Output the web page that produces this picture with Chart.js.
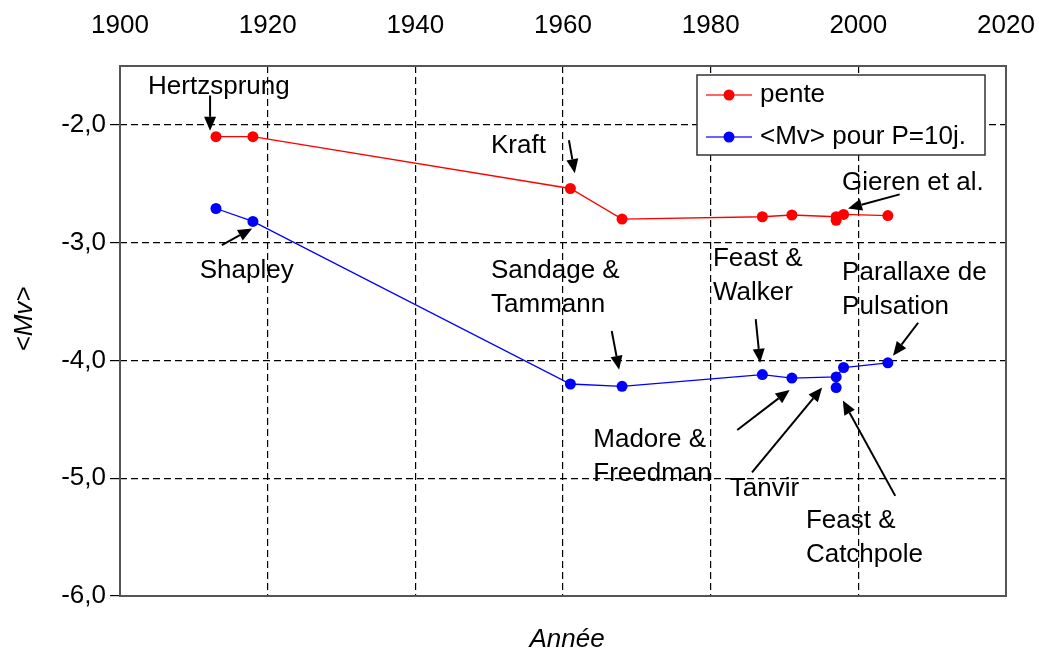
<!DOCTYPE html>
<html>
<head>
<meta charset="utf-8">
<script src="https://cdn.jsdelivr.net/npm/chart.js@4/dist/chart.umd.min.js"></script>
<style>
  body { margin: 0; background: #fff; }
  canvas { display: block; }
</style>
</head>
<body>
<canvas id="myChart" width="1039" height="654"></canvas>
<script>
// values
const years = [1913, 1918, 1961, 1968, 1987, 1991, 1997, 1998, 2004];
const pente = [-2.10, -2.10, -2.54, -2.80, -2.78, -2.765, -2.78, -2.76, -2.77];
const mvP10 = [-2.71, -2.82, -4.20, -4.22, -4.12, -4.15, -4.14, -4.06, -4.02];
// second 1997 measurement, not joined by the line
const extraYear = 1997;
const extraPente = -2.81;
const extraMv = -4.23;

const xTicks = [1900, 1920, 1940, 1960, 1980, 2000, 2020];
const yTicks = [-6, -5, -4, -3, -2];

// annotations: text lines (left x / middle y in data units) and arrows
const notes = [
    { lines: ['Hertzsprung'], x: 1903.8, y: -1.68 },
    { lines: ['Kraft'], x: 1950.25, y: -2.18 },
    { lines: ['Gieren et al.'], x: 1997.8, y: -2.49 },
    { lines: ['Shapley'], x: 1910.8, y: -3.24 },
    { lines: ['Sandage &', 'Tammann'], x: 1950.25, y: -3.24 },
    { lines: ['Feast &', 'Walker'], x: 1980.3, y: -3.14 },
    { lines: ['Parallaxe de', 'Pulsation'], x: 1997.8, y: -3.26 },
    { lines: ['Madore &', 'Freedman'], x: 1964.1, y: -4.67 },
    { lines: ['Tanvir'], x: 1982.6, y: -5.09 },
    { lines: ['Feast &', 'Catchpole'], x: 1992.9, y: -5.36 }
];
const arrows = [
    [1912.2, -1.75, 1912.2, -2.05],
    [1960.8, -2.13, 1961.6, -2.41],
    [2005.6, -2.59, 1998.6, -2.71],
    [1913.8, -3.02, 1917.9, -2.88],
    [1966.6, -3.75, 1967.6, -4.08],
    [1986.1, -3.65, 1986.7, -4.02],
    [2008.1, -3.68, 2004.7, -3.96],
    [1983.6, -4.59, 1990.7, -4.25],
    [1985.6, -4.95, 1995.1, -4.23],
    [2005.0, -5.15, 1997.9, -4.34]
];

const FONT = "'Liberation Sans', Arial, sans-serif";

function series(vals, extra) {
    let pts = years.map((yr, i) => ({ x: yr, y: vals[i] }));
    pts.push({ x: years[years.length - 1], y: null });
    pts.push({ x: extraYear, y: extra });
    return pts;
}

const decor = {
    id: 'decor',
    afterDatasetsDraw(chart) {
        const c = chart.ctx;
        const a = chart.chartArea;
        const xs = chart.scales.x, ys = chart.scales.y;
        c.save();
        // frame
        c.strokeStyle = '#555';
        c.lineWidth = 2;
        c.strokeRect(a.left, a.top, a.right - a.left, a.bottom - a.top);

        // notes
        c.fillStyle = '#000';
        c.font = '26px ' + FONT;
        c.textAlign = 'left';
        c.textBaseline = 'middle';
        notes.forEach(n => {
            let px = xs.getPixelForValue(n.x);
            let py = ys.getPixelForValue(n.y);
            n.lines.forEach((t, i) => c.fillText(t, px, py + i * 34));
        });

        // arrows
        c.strokeStyle = '#000';
        c.lineWidth = 2;
        arrows.forEach(ar => {
            let x1 = xs.getPixelForValue(ar[0]), y1 = ys.getPixelForValue(ar[1]);
            let x2 = xs.getPixelForValue(ar[2]), y2 = ys.getPixelForValue(ar[3]);
            let ang = Math.atan2(y2 - y1, x2 - x1);
            let hl = 14, hw = 6;
            let bx = x2 - hl * Math.cos(ang), by = y2 - hl * Math.sin(ang);
            c.beginPath();
            c.moveTo(x1, y1);
            c.lineTo(bx, by);
            c.stroke();
            c.beginPath();
            c.moveTo(x2, y2);
            c.lineTo(bx + hw * Math.sin(ang), by - hw * Math.cos(ang));
            c.lineTo(bx - hw * Math.sin(ang), by + hw * Math.cos(ang));
            c.closePath();
            c.fill();
        });

        // legend box
        let lx = 697, ly = 75, lw = 288, lh = 80;
        c.fillStyle = '#fff';
        c.fillRect(lx, ly, lw, lh);
        c.strokeStyle = '#333';
        c.lineWidth = 1.5;
        c.strokeRect(lx, ly, lw, lh);
        chart.data.datasets.forEach((ds, i) => {
            let ry = ly + 20 + i * 42;
            c.strokeStyle = ds.borderColor;
            c.globalAlpha = 0.6;
            c.lineWidth = 2;
            c.beginPath();
            c.moveTo(lx + 9, ry);
            c.lineTo(lx + 55, ry);
            c.stroke();
            c.globalAlpha = 1;
            c.fillStyle = ds.backgroundColor;
            c.beginPath();
            c.arc(lx + 32, ry, 5.5, 0, Math.PI * 2);
            c.fill();
            c.fillStyle = '#000';
            c.font = '26px ' + FONT;
            c.fillText(ds.label, lx + 63, ry);
        });

        // axis titles
        c.font = 'italic 26px ' + FONT;
        c.textAlign = 'center';
        c.fillText('Année', (a.left + a.right) / 2 + 4, 640);
        c.translate(25, (a.top + a.bottom) / 2 - 12);
        c.rotate(-Math.PI / 2);
        c.fillText('<Mv>', 0, 0);
        c.restore();
    }
};

let chart = document.getElementById('myChart').getContext('2d');

let myChart = new Chart(chart, {
    type: 'line',
    data: {
        datasets: [{
            label: 'pente',
            data: series(pente, extraPente),
            borderColor: '#ff0000',
            backgroundColor: '#ff0000',
            borderWidth: 1.3,
            pointRadius: 5.5,
            pointBorderWidth: 0,
            spanGaps: false
        }, {
            label: '<Mv> pour P=10j.',
            data: series(mvP10, extraMv),
            borderColor: '#0000ff',
            backgroundColor: '#0000ff',
            borderWidth: 1.3,
            pointRadius: 5.5,
            pointBorderWidth: 0,
            spanGaps: false
        }]
    },
    options: {
        responsive: false,
        animation: false,
        devicePixelRatio: 1,
        layout: { padding: { top: 0, right: 33, bottom: 58, left: 0 } },
        plugins: {
            legend: { display: false },
            tooltip: { enabled: false }
        },
        scales: {
            x: {
                type: 'linear',
                position: 'top',
                min: 1900,
                max: 2020,
                afterBuildTicks: s => { s.ticks = xTicks.map(v => ({ value: v })); },
                afterFit: s => {
                    s.height = 66;
                    s.paddingLeft = 0;
                    s.paddingRight = 0;
                },
                ticks: {
                    color: '#000',
                    font: { family: FONT, size: 26 },
                    padding: 25,
                    callback: v => String(v)
                },
                grid: {
                    color: '#000',
                    lineWidth: 1.2,
                    drawTicks: false
                },
                border: { display: false, dash: [7, 4] }
            },
            y: {
                min: -6,
                max: -1.5,
                afterBuildTicks: s => { s.ticks = yTicks.map(v => ({ value: v })); },
                afterFit: s => { s.width = 120; },
                ticks: {
                    color: '#000',
                    font: { family: FONT, size: 26 },
                    padding: 4,
                    callback: v => v.toFixed(1).replace('.', ',')
                },
                grid: {
                    color: '#000',
                    lineWidth: 1.2,
                    tickLength: 10,
                    tickBorderDash: [],
                    tickColor: '#000'
                },
                border: { display: false, dash: [7, 4] }
            }
        }
    },
    plugins: [decor]
});
</script>
</body>
</html>
